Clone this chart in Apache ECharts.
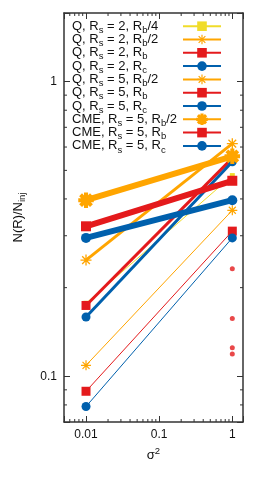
<!DOCTYPE html>
<html><head><meta charset="utf-8">
<script src="https://cdn.jsdelivr.net/npm/echarts@6/dist/echarts.min.js"></script>
<style>html,body{margin:0;padding:0;background:#fff}#c{width:273px;height:477px}</style>
</head><body><div id="c"></div>
<script>
// ---- data ----
const sigma2 = [0.01, 1];
const Q2_Rb4 = [0.177, 0.48];
const Q2_Rb2 = [0.109, 0.366];
const Q2_Rb  = [0.089, 0.311];
const Q2_Rc  = [0.079, 0.295];
const Q5_Rb2 = [0.248, 0.616];
const Q5_Rb  = [0.174, 0.55];
const Q5_Rc  = [0.159, 0.535];
const CME_Rb2 = [0.396, 0.558];
const CME_Rb  = [0.323, 0.461];
const CME_Rc  = [0.295, 0.396];
const extraX = [1, 1, 1, 1];
const extraY = [0.232, 0.157, 0.125, 0.119];
const xMinor = [0.006,0.007,0.008,0.009,0.02,0.03,0.04,0.05,0.06,0.07,0.08,0.09,0.2,0.3,0.4,0.5,0.6,0.7,0.8,0.9];
const yMinor = [0.08,0.09,0.2,0.3,0.4,0.5,0.6,0.7,0.8,0.9];
const names = ['Q, R_s = 2, R_b/4','Q, R_s = 2, R_b/2','Q, R_s = 2, R_b','Q, R_s = 2, R_c',
  'Q, R_s = 5, R_b/2','Q, R_s = 5, R_b','Q, R_s = 5, R_c',
  'CME, R_s = 5, R_b/2','CME, R_s = 5, R_b','CME, R_s = 5, R_c'];
const values = [Q2_Rb4,Q2_Rb2,Q2_Rb,Q2_Rc,Q5_Rb2,Q5_Rb,Q5_Rc,CME_Rb2,CME_Rb,CME_Rc];

// ---- style ----
const FONT = 'Liberation Sans, Arial, sans-serif';
const FS = 13, SFS = 9.5, TXTW = 106;
const YEL='#f0dc2a', ORG='#ffa500', RED='#e41a1c', BLU='#0060ad';
const AST='path://M-1,-0.12L1,-0.12L1,0.12L-1,0.12Z M-0.12,-1L0.12,-1L0.12,1L-0.12,1Z M-0.615,-0.785L0.785,0.615L0.615,0.785L-0.785,-0.615Z M0.785,-0.615L-0.615,0.785L-0.785,0.615L0.615,-0.785Z';
const styles = [
  {c:YEL,w:1,s:'rect',z:5},
  {c:ORG,w:1,s:AST,z:10},
  {c:RED,w:1,s:'rect',z:9},
  {c:BLU,w:1,s:'circle',z:9},
  {c:ORG,w:3,s:AST,z:11},
  {c:RED,w:3,s:'rect',z:9},
  {c:BLU,w:3,s:'circle',z:9},
  {c:ORG,w:6,s:AST,z:13,b:2.5},
  {c:RED,w:6,s:'rect',z:10},
  {c:BLU,w:6,s:'circle',z:10}
];
const sub = t => t.replace(/_(\w)/g, '{s|$1}');
// measure widths to left-align legend text (icons on right)
const ctx = document.createElement('canvas').getContext('2d');
function textW(n){
  let w = 0; const parts = n.split(/_(\w)/);
  parts.forEach((p,i)=>{ ctx.font = (i%2 ? SFS : FS) + 'px ' + FONT; w += ctx.measureText(p).width; });
  return w;
}
const legendRich = {s:{fontSize:SFS, fontFamily:FONT, color:'#111', lineHeight:13, padding:[8,0,0,0]}};
names.forEach((n,i)=>{ legendRich['w'+i] = {width: Math.max(0.5, TXTW - textW(n)), fontSize:FS, lineHeight:13}; });
const legendFmt = n => sub(n) + '{w' + names.indexOf(n) + '| }';

const series = names.map((n,i)=>({
  name:n, type:'line', data: sigma2.map((x,j)=>[x, values[i][j]]),
  symbol: styles[i].s, symbolSize: styles[i].z,
  lineStyle:{color:styles[i].c, width:styles[i].w},
  itemStyle:{color:styles[i].c, borderColor:styles[i].c, borderWidth: styles[i].b||0},
  emphasis:{disabled:true}
}));
series.push({name:'extra', type:'scatter', data: extraX.map((x,j)=>[x, extraY[j]]),
  symbol:'circle', symbolSize:5, itemStyle:{color:RED}, emphasis:{disabled:true}});
const TK='#333';
series.push({type:'custom', silent:true, z:5, data: xMinor.map(v=>[v,1]),
  renderItem:(p,api)=>{const cs=p.coordSys;const px=api.coord([api.value(0),1])[0];
    const b=cs.y+cs.height,t=cs.y;
    return {type:'group',children:[
      {type:'line',shape:{x1:px,y1:b,x2:px,y2:b-3},style:{stroke:TK,lineWidth:1}},
      {type:'line',shape:{x1:px,y1:t,x2:px,y2:t+3},style:{stroke:TK,lineWidth:1}}]};}});
series.push({type:'custom', silent:true, z:5, data: yMinor.map(v=>[0.1,v]),
  renderItem:(p,api)=>{const cs=p.coordSys;const py=api.coord([0.1,api.value(1)])[1];
    const l=cs.x,r=cs.x+cs.width;
    return {type:'group',children:[
      {type:'line',shape:{x1:l,y1:py,x2:l+3,y2:py},style:{stroke:TK,lineWidth:1}},
      {type:'line',shape:{x1:r,y1:py,x2:r-3,y2:py},style:{stroke:TK,lineWidth:1}}]};}});

const pow10 = v => {const l=Math.log10(v);return Math.abs(l-Math.round(l))<1e-6 ? String(+v.toPrecision(6)) : '';};
const axisCommon = {type:'log', logBase:10,
  axisLine:{show:true, lineStyle:{color:TK,width:1.5}},
  axisTick:{show:true, inside:true, length:6, lineStyle:{color:TK,width:1}},
  splitLine:{show:false}, minorTick:{show:false}};
const XR = {min:0.005, max:1.4}, YR = {min:0.07, max:1.71};

const option = {
  animation:false, backgroundColor:'#fff',
  textStyle:{fontFamily:FONT},
  grid:{left:64, right:30, top:13, bottom:55},
  xAxis:[
    Object.assign({}, axisCommon, XR, {position:'bottom',
      axisLabel:{formatter:pow10, fontSize:12, color:'#111', fontFamily:FONT, margin:7},
      name:'σ{p|2}', nameLocation:'middle', nameGap:21,
      nameTextStyle:{fontSize:13, color:'#111', fontFamily:FONT, rich:{p:{fontSize:9.5, fontFamily:FONT, color:'#111', padding:[0,0,9,0]}}}}),
    Object.assign({}, axisCommon, XR, {position:'top', axisLabel:{show:false}})
  ],
  yAxis:[
    Object.assign({}, axisCommon, YR, {position:'left',
      axisLabel:{formatter:pow10, fontSize:12, color:'#111', fontFamily:FONT, margin:7},
      name:'N(R)/N{s|inj}', nameLocation:'middle', nameGap:38,
      nameTextStyle:{fontSize:13, color:'#111', fontFamily:FONT, lineHeight:15, rich:{s:{fontSize:9.5, fontFamily:FONT, color:'#111', padding:[8,0,0,0]}}}}),
    Object.assign({}, axisCommon, YR, {position:'right', axisLabel:{show:false}})
  ],
  legend:{data:names, orient:'vertical', align:'right', right:51, top:17.2, padding:0,
    itemWidth:38, itemHeight:12, itemGap:-4.7, selectedMode:false,
    formatter: legendFmt,
    textStyle:{fontSize:FS, color:'#111', fontFamily:FONT, lineHeight:13, rich:legendRich}},
  series
};
echarts.init(document.getElementById('c')).setOption(option);
</script></body></html>
